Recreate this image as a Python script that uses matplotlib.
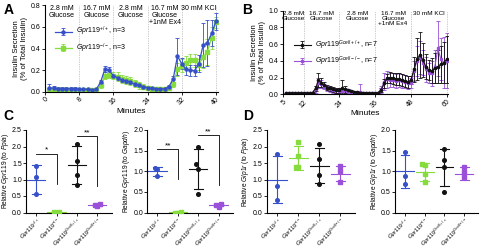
import numpy as np
import matplotlib
matplotlib.use("Agg")
import matplotlib.pyplot as plt
import matplotlib.transforms as mtransforms

plt.rcParams['font.family'] = ['Liberation Sans', 'DejaVu Sans']
plt.rcParams['mathtext.fontset'] = 'custom'
plt.rcParams['mathtext.rm'] = 'Liberation Sans'
plt.rcParams['mathtext.it'] = 'Liberation Sans:italic'
plt.rcParams['axes.linewidth'] = 0.8

BLUE = "#3550c8"
GREEN = "#86dc3c"
BLACK = "#111111"
PURPLE = "#9a50d8"

# ---- Panel A: perifusion, global knockout ----
tA = list(range(1, 41))
wt_A = [0.04, 0.035, 0.03, 0.03, 0.03, 0.03, 0.03, 0.025, 0.025, 0.025,
        0.02, 0.025, 0.09, 0.21, 0.20, 0.15, 0.13, 0.11, 0.10, 0.09,
        0.07, 0.06, 0.05, 0.04, 0.035, 0.03, 0.03, 0.03, 0.05, 0.12,
        0.33, 0.26, 0.21, 0.20, 0.195, 0.26, 0.43, 0.45, 0.54, 0.65]
wt_A_err = [0.03, 0.02, 0.02, 0.02, 0.02, 0.02, 0.02, 0.015, 0.015, 0.015,
            0.01, 0.01, 0.02, 0.03, 0.03, 0.02, 0.02, 0.02, 0.02, 0.02,
            0.015, 0.01, 0.01, 0.01, 0.01, 0.01, 0.01, 0.01, 0.01, 0.03,
            0.17, 0.05, 0.05, 0.05, 0.05, 0.08, 0.2, 0.21, 0.12, 0.08]
ko_A = [0.02, 0.02, 0.02, 0.02, 0.02, 0.02, 0.02, 0.02, 0.02, 0.02,
        0.02, 0.02, 0.06, 0.15, 0.16, 0.15, 0.14, 0.12, 0.11, 0.10,
        0.08, 0.06, 0.05, 0.04, 0.03, 0.03, 0.03, 0.03, 0.04, 0.07,
        0.21, 0.24, 0.27, 0.29, 0.29, 0.25, 0.32, 0.37, 0.50, 0.64]
ko_A_err = [0.01, 0.01, 0.01, 0.01, 0.01, 0.01, 0.01, 0.01, 0.01, 0.01,
            0.01, 0.01, 0.02, 0.03, 0.03, 0.03, 0.04, 0.04, 0.04, 0.04,
            0.03, 0.03, 0.02, 0.01, 0.01, 0.01, 0.01, 0.01, 0.01, 0.02,
            0.06, 0.06, 0.06, 0.06, 0.06, 0.05, 0.10, 0.12, 0.10, 0.05]

# ---- Panel B: perifusion, G-cell knockout ----
tB = list(range(6, 61))
gc_wt_B = [0.01] * 9 + [
    0.02, 0.07, 0.17, 0.14, 0.11, 0.08, 0.07, 0.06, 0.05, 0.05,
    0.07, 0.06, 0.05, 0.04, 0.03, 0.03, 0.02, 0.02, 0.015, 0.01,
    0.01, 0.01, 0.02, 0.05, 0.13, 0.19, 0.20, 0.19, 0.18, 0.18,
    0.17, 0.16, 0.15, 0.17, 0.30, 0.42, 0.47, 0.41, 0.33, 0.29,
    0.28, 0.31, 0.33, 0.36, 0.38, 0.42]
gc_wt_B_err = [0.005] * 9 + [
    0.005, 0.03, 0.08, 0.05, 0.04, 0.03, 0.03, 0.03, 0.03, 0.03,
    0.10, 0.04, 0.01, 0.01, 0.01, 0.01, 0.01, 0.01, 0.01, 0.01,
    0.01, 0.01, 0.01, 0.02, 0.05, 0.05, 0.07, 0.07, 0.07, 0.07,
    0.07, 0.07, 0.07, 0.05, 0.15, 0.25, 0.28, 0.20, 0.15, 0.12,
    0.15, 0.18, 0.20, 0.22, 0.25, 0.28]
gc_ko_B = [0.01] * 9 + [
    0.02, 0.06, 0.13, 0.12, 0.09, 0.07, 0.06, 0.05, 0.05, 0.04,
    0.04, 0.05, 0.04, 0.03, 0.02, 0.02, 0.03, 0.02, 0.01, 0.01,
    0.01, 0.01, 0.02, 0.06, 0.15, 0.18, 0.17, 0.17, 0.16, 0.17,
    0.16, 0.15, 0.14, 0.14, 0.28, 0.40, 0.44, 0.38, 0.30, 0.26,
    0.25, 0.33, 0.55, 0.42, 0.38, 0.40]
gc_ko_B_err = [0.005] * 9 + [
    0.005, 0.04, 0.06, 0.05, 0.03, 0.03, 0.03, 0.03, 0.03, 0.03,
    0.02, 0.02, 0.02, 0.02, 0.02, 0.02, 0.09, 0.01, 0.01, 0.01,
    0.01, 0.01, 0.01, 0.04, 0.10, 0.10, 0.08, 0.08, 0.08, 0.08,
    0.08, 0.08, 0.08, 0.06, 0.12, 0.18, 0.20, 0.15, 0.15, 0.12,
    0.15, 0.20, 0.33, 0.25, 0.30, 0.33]

# ---- Panels C/D: qPCR ----
groups = [r"$\mathit{Gpr119}^{+/+}$", r"$\mathit{Gpr119}^{-/-}$",
          r"$\mathit{Gpr119}^{Gcell+/+}$", r"$\mathit{Gpr119}^{Gcell-/-}$"]
group_colors = [BLUE, GREEN, BLACK, PURPLE]
group_markers = ["o", "s", "o", "s"]

gpr119_ppia_pts = [[1.40, 1.07, 0.56], [0.01, 0.0, 0.01], [2.08, 1.55, 1.15, 0.84], [0.25, 0.20, 0.24]]
gpr119_ppia_mean = [1.0, 0.005, 1.45, 0.23]
gpr119_ppia_sd = [0.43, 0.01, 0.58, 0.03]

gpr119_gapdh_pts = [[1.08, 1.06, 0.88], [0.0, 0.0, 0.01], [1.58, 1.17, 1.05, 0.44], [0.20, 0.14, 0.19]]
gpr119_gapdh_mean = [1.0, 0.003, 1.06, 0.18]
gpr119_gapdh_sd = [0.11, 0.01, 0.48, 0.03]

glp1r_ppia_pts = [[1.78, 0.81, 0.39], [2.14, 1.72, 1.39, 1.37], [2.08, 1.62, 1.13, 0.85], [1.40, 1.25, 0.91]]
glp1r_ppia_mean = [1.0, 1.65, 1.42, 1.18]
glp1r_ppia_sd = [0.72, 0.36, 0.54, 0.23]

glp1r_gapdh_pts = [[1.47, 0.89, 0.68], [1.18, 1.14, 0.94, 0.75], [1.55, 1.28, 1.10, 0.49], [1.10, 0.97, 0.85]]
glp1r_gapdh_mean = [1.0, 0.98, 1.10, 0.94]
glp1r_gapdh_sd = [0.40, 0.22, 0.45, 0.16]

# significance brackets: (from group, to group, height, leg bottom, label)
sig_c1 = [(0, 1, 1.78, 0.85, "*"), (2, 3, 2.32, 0.80, "**")]
sig_c2 = [(0, 1, 1.53, 0.82, "**"), (2, 3, 1.88, 0.67, "**")]

fig = plt.figure(figsize=(4.81, 2.5), dpi=100)


def style(ax):
    ax.spines['top'].set_visible(False)
    ax.spines['right'].set_visible(False)
    ax.tick_params(labelsize=5, length=2, width=0.6, pad=1)


def conditions(ax, bounds, labels, fs):
    tr = mtransforms.blended_transform_factory(ax.transData, ax.transAxes)
    for b in bounds[1:]:
        ax.axvline(b, color="#999999", lw=0.5, ls=(0, (1, 1.5)))
    for lo, hi, lab in zip(bounds[:-1], bounds[1:], labels):
        ax.text((lo + hi) / 2, 0.995, lab, transform=tr, ha="center", va="top",
                fontsize=fs, linespacing=1.0)


# Panel A
axA = fig.add_axes([0.0936, 0.632, 0.3597, 0.348])
style(axA)
conditions(axA, [0, 8, 16, 24, 32, 40],
           ["2.8 mM\nGlucose", "16.7 mM\nGlucose", "2.8 mM\nGlucose",
            "16.7 mM\nGlucose\n+1nM Ex4", "30 mM KCl"], 5)
axA.errorbar(tA, ko_A, yerr=ko_A_err, color=GREEN, marker="s", ms=2.2, lw=0.9,
             elinewidth=0.6, capsize=1.5, capthick=0.6,
             label=r"$\mathit{Gpr119}^{-/-}$, n=3")
axA.errorbar(tA, wt_A, yerr=wt_A_err, color=BLUE, marker="o", ms=2.2, lw=0.9,
             elinewidth=0.6, capsize=1.5, capthick=0.6,
             label=r"$\mathit{Gpr119}^{+/+}$, n=3")
axA.set_xlim(0, 40.5)
axA.set_ylim(0, 0.8)
axA.set_xticks([0, 8, 16, 24, 32, 40])
axA.set_yticks([0, 0.2, 0.4, 0.6, 0.8])
axA.set_yticklabels(["0.0", "0.2", "0.4", "0.6", "0.8"])
plt.setp(axA.get_xticklabels(), rotation=45, ha="right", rotation_mode="anchor")
axA.set_xlabel("Minutes", fontsize=6, labelpad=1)
axA.set_ylabel("Insulin Secretion\n(% of Total Insulin)", fontsize=5.5, labelpad=2)
h, l = axA.get_legend_handles_labels()
axA.legend(h[::-1], l[::-1], loc="upper left", bbox_to_anchor=(0.04, 0.8),
           fontsize=5, frameon=False, handlelength=2.5, handletextpad=0.5,
           labelspacing=0.4, borderaxespad=0)

# Panel B
axB = fig.add_axes([0.5877, 0.623, 0.3443, 0.334])
style(axB)
conditions(axB, [5, 12, 24, 36, 48, 60],
           ["2.8 mM\nGlucose", "16.7 mM\nGlucose", "2.8 mM\nGlucose",
            "16.7 mM\nGlucose\n+1nM Ex4", "30 mM KCl"], 4.6)
axB.errorbar(tB, gc_ko_B, yerr=gc_ko_B_err, color=PURPLE, marker="s", ms=1.6, lw=0.8,
             elinewidth=0.6, capsize=1.2, capthick=0.6,
             label=r"$\mathit{Gpr119}^{Gcell-/-}$, n=7")
axB.errorbar(tB, gc_wt_B, yerr=gc_wt_B_err, color=BLACK, marker="o", ms=1.6, lw=0.8,
             elinewidth=0.6, capsize=1.2, capthick=0.6,
             label=r"$\mathit{Gpr119}^{Gcell+/+}$, n=7")
axB.set_xlim(5, 60.5)
axB.set_ylim(0, 1.0)
axB.set_xticks([5, 12, 24, 36, 48, 60])
axB.set_yticks([0, 0.2, 0.4, 0.6, 0.8, 1.0])
axB.set_yticklabels(["0.0", "0.2", "0.4", "0.6", "0.8", "1.0"])
plt.setp(axB.get_xticklabels(), rotation=45, ha="right", rotation_mode="anchor")
axB.set_xlabel("Minutes", fontsize=6, labelpad=1)
axB.set_ylabel("Insulin Secretion\n(% of Total Insulin)", fontsize=5.5, labelpad=2)
h, l = axB.get_legend_handles_labels()
axB.legend(h[::-1], l[::-1], loc="upper left", bbox_to_anchor=(0.05, 0.7),
           fontsize=5, frameon=False, handlelength=2.5, handletextpad=0.5,
           labelspacing=0.4, borderaxespad=0)


def offsets(vals, step=0.13, thr=0.12):
    order = np.argsort(vals)
    offs = np.zeros(len(vals))
    placed = []
    for i in order:
        near = [j for j in placed if abs(vals[j] - vals[i]) < thr]
        k = len(near)
        offs[i] = [0, -step, step, -2 * step][k % 4]
        placed.append(i)
    return offs


def dotplot(ax, pts, means, sds, ymax, yticks, ylabel, sig=()):
    style(ax)
    for i, (p, m, s) in enumerate(zip(pts, means, sds)):
        c = group_colors[i]
        x = i + offsets(p)
        ax.plot(x, p, ls="none", marker=group_markers[i], color=c, ms=2.6, zorder=3)
        ax.plot([i - 0.45, i + 0.45], [m, m], color=c, lw=0.8)
        ax.plot([i, i], [max(m - s, 0), m + s], color=c, lw=0.8)
        ax.plot([i - 0.22, i + 0.22], [m + s, m + s], color=c, lw=0.8)
        if m - s > 0:
            ax.plot([i - 0.22, i + 0.22], [m - s, m - s], color=c, lw=0.8)
    for a, b, hgt, low, lab in sig:
        ax.plot([a, b, b], [hgt, hgt, low], color="k", lw=0.6)
        ax.text((a + b) / 2, hgt, lab, ha="center", va="bottom", fontsize=6)
    ax.set_xlim(-0.5, 3.7)
    ax.set_ylim(0, ymax)
    ax.set_yticks(yticks)
    ax.set_yticklabels(["%.1f" % v for v in yticks])
    ax.set_xticks(range(4))
    ax.set_xticklabels(groups, rotation=45, ha="right", rotation_mode="anchor", fontsize=4)
    ax.tick_params(axis="x", pad=0.5)
    ax.set_ylabel(ylabel, fontsize=4.8, labelpad=1)


axC1 = fig.add_axes([0.054, 0.15, 0.178, 0.33])
dotplot(axC1, gpr119_ppia_pts, gpr119_ppia_mean, gpr119_ppia_sd, 2.5,
        [0, 0.5, 1.0, 1.5, 2.0, 2.5], r"Relative $\mathit{Gpr119}$ (to $\mathit{Ppia}$)", sig_c1)
axC2 = fig.add_axes([0.3062, 0.15, 0.178, 0.33])
dotplot(axC2, gpr119_gapdh_pts, gpr119_gapdh_mean, gpr119_gapdh_sd, 2.0,
        [0, 0.5, 1.0, 1.5, 2.0], r"Relative $\mathit{Gpr119}$ (to $\mathit{Gapdh}$)", sig_c2)
axD1 = fig.add_axes([0.5545, 0.15, 0.1836, 0.33])
dotplot(axD1, glp1r_ppia_pts, glp1r_ppia_mean, glp1r_ppia_sd, 2.5,
        [0, 0.5, 1.0, 1.5, 2.0, 2.5], r"Relative $\mathit{Glp1r}$ (to $\mathit{Ppia}$)")
axD2 = fig.add_axes([0.8212, 0.15, 0.1726, 0.33])
dotplot(axD2, glp1r_gapdh_pts, glp1r_gapdh_mean, glp1r_gapdh_sd, 2.0,
        [0, 0.5, 1.0, 1.5, 2.0], r"Relative $\mathit{Glp1r}$ (to $\mathit{Gapdh}$)")

for lab, x, y in [("A", 0.008, 0.99), ("B", 0.503, 0.99), ("C", 0.006, 0.565), ("D", 0.505, 0.565)]:
    fig.text(x, y, lab, fontsize=10, fontweight="bold", va="top", ha="left")

fig.savefig("out.png", dpi=100)
